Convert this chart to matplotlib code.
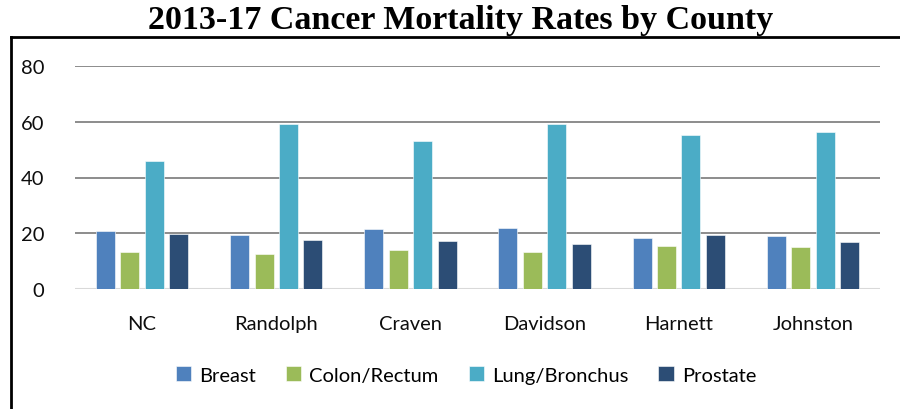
import matplotlib.pyplot as plt
import numpy as np
from matplotlib.lines import Line2D

# Data
counties = ["NC", "Randolph", "Craven", "Davidson", "Harnett", "Johnston"]
breast = [20.8, 19.5, 21.6, 21.9, 18.2, 19.0]
colon_rectum = [13.2, 12.5, 13.9, 13.3, 15.4, 15.2]
lung_bronchus = [46.0, 59.3, 53.1, 59.3, 55.4, 56.3]
prostate = [19.9, 17.5, 17.2, 16.2, 19.5, 16.9]

series = [("Breast", breast, "#4F81BD"),
          ("Colon/Rectum", colon_rectum, "#9BBB59"),
          ("Lung/Bronchus", lung_bronchus, "#4BACC6"),
          ("Prostate", prostate, "#2C4D75")]

plt.rcParams['font.family'] = ['Lato', 'DejaVu Sans']

fig = plt.figure(figsize=(9, 4.1), dpi=100)
ax = fig.add_axes([75 / 900, 1 - 290 / 410, 805 / 900, 223 / 410])

x = np.arange(len(counties))
width = 0.142
step = 0.182
for i, (name, vals, color) in enumerate(series):
    ax.bar(x + (i - 1.5) * step, vals, width, color=color, label=name,
           edgecolor="white", linewidth=0.4, zorder=3)

ax.set_xlim(-0.5, len(counties) - 0.5)
ax.set_ylim(0, 80)
ax.set_yticks([0, 20, 40, 60, 80])
ax.set_xticks(x)
ax.set_xticklabels(counties)
ax.tick_params(axis='both', length=0, labelsize=14.5, colors="#0d0d0d")
ax.tick_params(axis='y', pad=22)
ax.tick_params(axis='x', pad=19)

for s in ax.spines.values():
    s.set_visible(False)
ax.grid(axis='y', color="#8c8c8c", linewidth=1.4, zorder=0)
ax.axhline(0, color="#d9d9d9", linewidth=2.2, zorder=2)

fig.legend(loc='center', bbox_to_anchor=(466 / 900, 1 - 376 / 410), ncol=4,
           frameon=False, fontsize=14.5, handlelength=0.75, handleheight=0.75,
           handletextpad=0.4, columnspacing=1.5)

fig.text(461 / 900, 1 - 20 / 410, "2013-17 Cancer Mortality Rates by County",
         ha='center', va='center', fontsize=24.5, fontweight='bold',
         family='Liberation Serif')

# Partial border box around the chart
fig.add_artist(Line2D([11 / 900, 11 / 900], [-0.05, 1 - 38 / 410],
                      transform=fig.transFigure, color="black", linewidth=2))
fig.add_artist(Line2D([11 / 900, 1.05], [1 - 38 / 410, 1 - 38 / 410],
                      transform=fig.transFigure, color="black", linewidth=2))

fig.savefig("out.png", dpi=100)
